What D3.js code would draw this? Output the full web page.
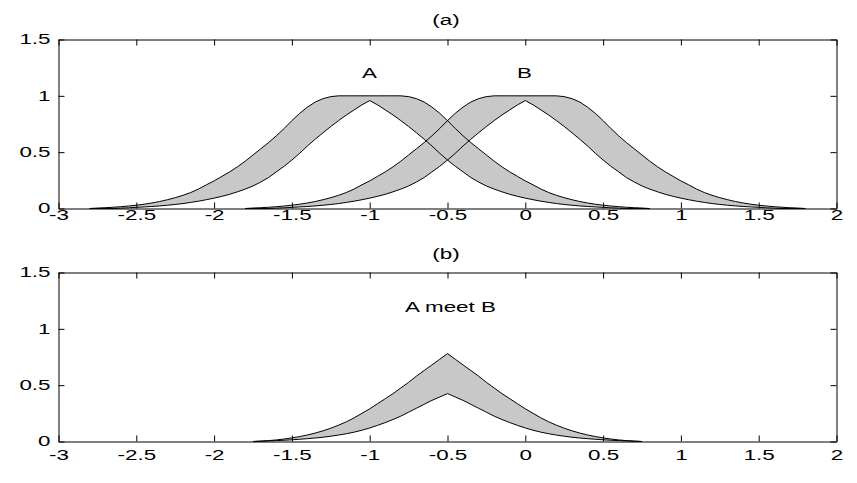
<!DOCTYPE html>
<html>
<head>
<meta charset="utf-8">
<script src="https://cdn.jsdelivr.net/npm/d3@7"></script>
<style>
  body { margin: 0; background: #fff; }
  text { font-family: "Liberation Sans", Arial, sans-serif; font-size: 14px; fill: #000; }
</style>
</head>
<body>
<div id="chart"></div>
<script>
var width = 857, height = 483,
    stretch = 1.6,
    xStep = 0.05;

var xTicks = [-3, -2.5, -2, -1.5, -1, -0.5, 0, 0.5, 1, 1.5, 2],
    yTicks = [0, 0.5, 1, 1.5];

// set A, sampled every 0.05 from -2.8 to 0.8
var aStart = -2.8;
var aUpper = [0, 0.004, 0.007, 0.011, 0.016, 0.022, 0.029, 0.038, 0.049, 0.062, 0.078, 0.096, 0.117, 0.142, 0.173, 0.21,
  0.245, 0.285, 0.325, 0.37, 0.42, 0.475, 0.53, 0.585, 0.645, 0.71, 0.78, 0.845, 0.9, 0.945, 0.975, 0.993,
  1, 1, 1, 1, 1, 1, 1, 1, 1,
  0.993, 0.975, 0.945, 0.9, 0.845, 0.78, 0.71, 0.645, 0.585, 0.53, 0.475, 0.42, 0.37, 0.325, 0.285, 0.245,
  0.21, 0.173, 0.142, 0.117, 0.096, 0.078, 0.062, 0.049, 0.038, 0.029, 0.022, 0.016, 0.011, 0.007, 0.004, 0];
var aLower = [0, 0, 0, 0, 0.003, 0.006, 0.01, 0.014, 0.018, 0.023, 0.029, 0.036, 0.044, 0.054, 0.065, 0.078, 0.092,
  0.108, 0.126, 0.148, 0.172, 0.2, 0.235, 0.275, 0.325, 0.375, 0.43, 0.49, 0.555, 0.615, 0.672, 0.728, 0.78, 0.83, 0.875, 0.92,
  0.958,
  0.92, 0.875, 0.83, 0.78, 0.728, 0.672, 0.615, 0.555, 0.49, 0.43, 0.375, 0.325, 0.275, 0.235, 0.2, 0.172, 0.148, 0.126, 0.108,
  0.092, 0.078, 0.065, 0.054, 0.044, 0.036, 0.029, 0.023, 0.018, 0.014, 0.01, 0.006, 0.003, 0, 0, 0, 0];

// set B, sampled every 0.05 from -1.8 to 1.8
var bStart = -1.8;
var bUpper = [0, 0.004, 0.007, 0.011, 0.016, 0.022, 0.029, 0.038, 0.049, 0.062, 0.078, 0.096, 0.117, 0.142, 0.173, 0.21,
  0.245, 0.285, 0.325, 0.37, 0.42, 0.475, 0.53, 0.585, 0.645, 0.71, 0.78, 0.845, 0.9, 0.945, 0.975, 0.993,
  1, 1, 1, 1, 1, 1, 1, 1, 1,
  0.993, 0.975, 0.945, 0.9, 0.845, 0.78, 0.71, 0.645, 0.585, 0.53, 0.475, 0.42, 0.37, 0.325, 0.285, 0.245,
  0.21, 0.173, 0.142, 0.117, 0.096, 0.078, 0.062, 0.049, 0.038, 0.029, 0.022, 0.016, 0.011, 0.007, 0.004, 0];
var bLower = [0, 0, 0, 0, 0.003, 0.006, 0.01, 0.014, 0.018, 0.023, 0.029, 0.036, 0.044, 0.054, 0.065, 0.078, 0.092,
  0.108, 0.126, 0.148, 0.172, 0.2, 0.235, 0.275, 0.325, 0.375, 0.43, 0.49, 0.555, 0.615, 0.672, 0.728, 0.78, 0.83, 0.875, 0.92,
  0.958,
  0.92, 0.875, 0.83, 0.78, 0.728, 0.672, 0.615, 0.555, 0.49, 0.43, 0.375, 0.325, 0.275, 0.235, 0.2, 0.172, 0.148, 0.126, 0.108,
  0.092, 0.078, 0.065, 0.054, 0.044, 0.036, 0.029, 0.023, 0.018, 0.014, 0.01, 0.006, 0.003, 0, 0, 0, 0];

// A meet B, sampled every 0.05 from -1.75 to 0.75
var meetStart = -1.75;
var meetUpper = [0, 0.004, 0.008, 0.014, 0.022, 0.032, 0.044, 0.058, 0.075, 0.095, 0.118, 0.145, 0.175, 0.21, 0.25,
  0.29, 0.335, 0.38, 0.425, 0.475, 0.525, 0.58, 0.63, 0.68, 0.73,
  0.78,
  0.73, 0.68, 0.63, 0.58, 0.525, 0.475, 0.425, 0.38, 0.335, 0.29,
  0.25, 0.21, 0.175, 0.145, 0.118, 0.095, 0.075, 0.058, 0.044, 0.032, 0.022, 0.014, 0.008, 0.004, 0];
var meetLower = [0, 0.002, 0.005, 0.008, 0.011, 0.015, 0.02, 0.025, 0.031, 0.038, 0.047, 0.057, 0.069, 0.083, 0.1,
  0.12, 0.143, 0.168, 0.195, 0.225, 0.26, 0.295, 0.33, 0.365, 0.395,
  0.425,
  0.395, 0.365, 0.33, 0.295, 0.26, 0.225, 0.195, 0.168, 0.143, 0.12,
  0.1, 0.083, 0.069, 0.057, 0.047, 0.038, 0.031, 0.025, 0.02, 0.015, 0.011, 0.008, 0.005, 0.002, 0];

function band(start, upper, lower) {
  return upper.map(function(u, i) { return {x: start + i * xStep, hi: u, lo: lower[i]}; });
}

var svg = d3.select("#chart").append("svg")
    .attr("width", width)
    .attr("height", height);

svg.append("rect").attr("width", width).attr("height", height).attr("fill", "#fff");

var left = 58.5, right = 836.5;
var x = d3.scaleLinear().domain([-3, 2]).range([left, right]);

function panel(top, bottom, title, titleY, labels, bands, xPad) {
  var y = d3.scaleLinear().domain([0, 1.5]).range([bottom, top]);
  var g = svg.append("g");

  var area = d3.area()
      .x(function(d) { return x(d.x); })
      .y0(function(d) { return y(d.lo); })
      .y1(function(d) { return y(d.hi); });
  var hiLine = d3.line().x(function(d) { return x(d.x); }).y(function(d) { return y(d.hi); });
  var loLine = d3.line().x(function(d) { return x(d.x); }).y(function(d) { return y(d.lo); });

  bands.forEach(function(b) {
    g.append("path").attr("d", area(b)).attr("fill", "#c8c8c8");
  });
  bands.forEach(function(b) {
    g.append("path").attr("d", hiLine(b)).attr("fill", "none").attr("stroke", "#000").attr("stroke-width", 1);
    g.append("path").attr("d", loLine(b)).attr("fill", "none").attr("stroke", "#000").attr("stroke-width", 1);
  });

  var fmt = function(d) { return String(d); };

  var ax = g.append("g").attr("transform", "translate(0," + bottom + ")")
      .call(d3.axisBottom(x).tickValues(xTicks).tickFormat(fmt).tickSizeInner(-6).tickSizeOuter(0).tickPadding(xPad));
  g.append("g").attr("transform", "translate(0," + top + ")")
      .call(d3.axisTop(x).tickValues(xTicks).tickFormat("").tickSizeInner(-6).tickSizeOuter(0));
  var ay = g.append("g").attr("transform", "translate(" + left + ",0)")
      .call(d3.axisLeft(y).tickValues(yTicks).tickFormat(fmt).tickSizeInner(-6).tickSizeOuter(0).tickPadding(8));
  g.append("g").attr("transform", "translate(" + right + ",0)")
      .call(d3.axisRight(y).tickValues(yTicks).tickFormat("").tickSizeInner(-6).tickSizeOuter(0));

  g.selectAll(".domain, .tick line").attr("stroke", "#000");
  g.selectAll(".tick text").attr("font-size", null).attr("font-family", null);

  ax.selectAll(".tick text").attr("transform", "scale(" + stretch + ",1)");
  ay.selectAll(".tick text")
      .attr("x", -8 / stretch)
      .attr("transform", "scale(" + stretch + ",1)");

  g.append("text")
      .attr("text-anchor", "middle")
      .attr("transform", "translate(446," + titleY + ") scale(" + stretch + ",1)")
      .text(title);

  labels.forEach(function(l) {
    g.append("text")
        .attr("text-anchor", "middle")
        .attr("transform", "translate(" + l.cx + "," + l.by + ") scale(" + stretch + ",1)")
        .text(l.text);
  });
}

panel(39.5, 208.5, "(a)", 25,
  [{text: "A", cx: 369.5, by: 78}, {text: "B", cx: 524.5, by: 78}],
  [band(aStart, aUpper, aLower), band(bStart, bUpper, bLower)], 2);

panel(272.5, 441.5, "(b)", 259,
  [{text: "A meet B", cx: 450.5, by: 311.5}],
  [band(meetStart, meetUpper, meetLower)], 9);
</script>
</body>
</html>
